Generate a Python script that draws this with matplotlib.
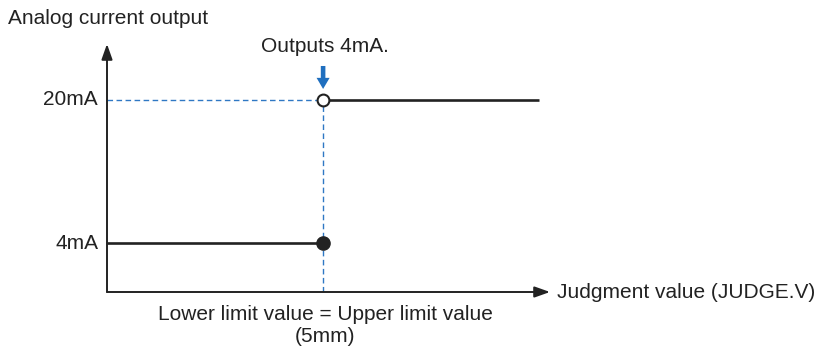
import matplotlib
matplotlib.use("Agg")
import matplotlib.pyplot as plt

plt.rcParams['font.family'] = ['Liberation Sans', 'DejaVu Sans']

# Data
threshold = 5.0          # lower limit = upper limit (5mm)
x_max = 10.0
low_level = 4.0          # mA
high_level = 20.0        # mA
tick_values = [4.0, 20.0]
tick_labels = ["4mA", "20mA"]

W, H = 821, 352
fig = plt.figure(figsize=(W / 100, H / 100), dpi=100)
ax = fig.add_axes([107 / W, 60 / H, (550 - 107) / W, (292 - 44) / H])
ax.set_xlim(0, 10.25)
ax.set_ylim(-1.48, 26.26)
ax.axis('off')

blue = '#2f78c4'
# dashed guides
ax.plot([0, threshold], [high_level, high_level], ls=(0, (4, 2.5)), color=blue, lw=1.0, zorder=1)
ax.plot([threshold, threshold], [ax.get_ylim()[0], high_level], ls=(0, (4, 2.5)), color=blue, lw=1.0, zorder=1)

# step lines
ax.plot([0, threshold], [low_level, low_level], color='#222222', lw=1.9, zorder=2, solid_capstyle='butt')
ax.plot([threshold, x_max], [high_level, high_level], color='#222222', lw=1.9, zorder=2, solid_capstyle='butt')
ax.plot([threshold], [low_level], 'o', ms=9.5, color='#222222', zorder=3)
ax.plot([threshold], [high_level], 'o', ms=8.5, mfc='white', mec='#222222', mew=1.5, zorder=3)

# axes arrows
arrow_kw = dict(arrowstyle='-|>,head_length=0.93,head_width=0.33', color='#222222', lw=1.4,
                shrinkA=0, shrinkB=0, mutation_scale=10)
ax.annotate('', xy=(0, 1), xytext=(0, 0), xycoords='axes fraction', arrowprops=arrow_kw)
ax.annotate('', xy=(1, 0), xytext=(0, 0), xycoords='axes fraction', arrowprops=arrow_kw)

# blue arrow
ax.annotate('', xy=(threshold, high_level + 1.23), xytext=(threshold, high_level + 3.8),
            arrowprops=dict(arrowstyle='simple,head_length=0.8,head_width=0.94,tail_width=0.33',
                            color='#1f6fbf', lw=0, shrinkA=0, shrinkB=0, mutation_scale=10))

fs = 15
for v, lab in zip(tick_values, tick_labels):
    ax.annotate(lab, xy=(0, v), xytext=(-9, 0), textcoords='offset pixels', ha='right', va='center',
                fontsize=fs, color='#222222')

fig.text(8 / W, 1 - 18 / H, "Analog current output", ha='left', va='center', fontsize=fs, color='#222222')
fig.text(325 / W, 1 - 47 / H, "Outputs 4mA.", ha='center', va='center', fontsize=fs, color='#222222')
fig.text(557 / W, 1 - 293 / H, "Judgment value (JUDGE.V)", ha='left', va='center', fontsize=fs, color='#222222')
fig.text(325 / W, 1 - 314 / H, "Lower limit value = Upper limit value", ha='center', va='center', fontsize=fs, color='#222222')
fig.text(325 / W, 1 - 336 / H, "(5mm)", ha='center', va='center', fontsize=fs, color='#222222')

fig.savefig('out.png', dpi=100)
